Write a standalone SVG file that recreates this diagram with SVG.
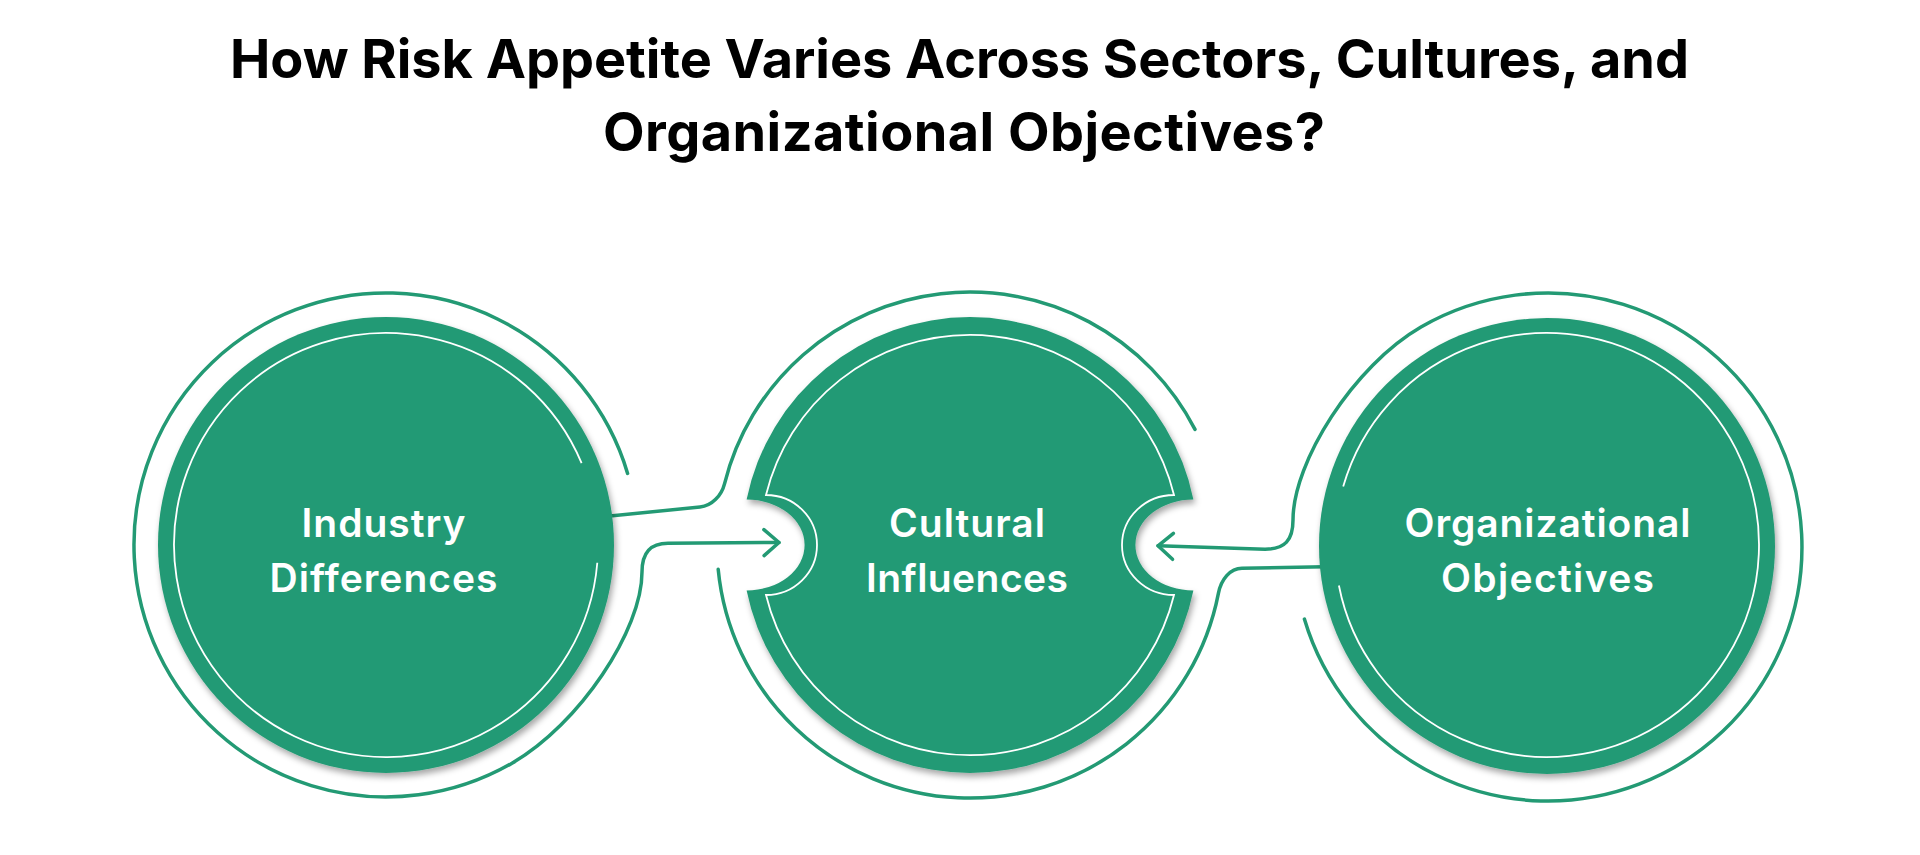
<svg xmlns="http://www.w3.org/2000/svg" width="1920" height="855" viewBox="0 0 1920 855">
  <style>
    .title { font-family: Inter, "DejaVu Sans", sans-serif; font-weight: 700; font-size: 54px; fill: #000; }
    .label { font-family: Inter, "DejaVu Sans", sans-serif; font-weight: 600; font-size: 39px; fill: #ffffff; }
    .disc { fill: #239A74; filter: url(#sh); }
    .inner { fill: none; stroke: #ffffff; stroke-width: 1.8; }
    .ring { fill: none; stroke: #239A74; stroke-width: 3.5; stroke-linecap: round; stroke-linejoin: round; }
  </style>
  <defs>
    <filter id="sh" x="-10%" y="-10%" width="125%" height="125%">
      <feDropShadow dx="2" dy="4" stdDeviation="3" flood-color="#000" flood-opacity="0.35"/>
    </filter>
    <marker id="chev" markerUnits="userSpaceOnUse" markerWidth="40" markerHeight="40" viewBox="-20 -20 40 40" refX="0" refY="0" orient="auto" overflow="visible">
      <path d="M -15 -13 L 0 0 L -15 13" fill="none" stroke="#239A74" stroke-width="3.5" stroke-linecap="round" stroke-linejoin="round"/>
    </marker>
  </defs>
  <rect width="1920" height="855" fill="#ffffff"/>

  <g id="title">
    <text class="title" x="959.5" y="78" text-anchor="middle" textLength="1459" lengthAdjust="spacing">How Risk Appetite Varies Across Sectors, Cultures, and</text>
    <text class="title" x="964" y="151" text-anchor="middle" textLength="722" lengthAdjust="spacing">Organizational Objectives?</text>
  </g>

  <g id="connectors">
    <!-- C1 ring into arrow toward C2 -->
    <path class="ring" marker-end="url(#chev)" d="M 627.6 473.4 A 252 252 0 1 0 512 763.2 C 579.5 724.2 642 630 642 572 C 642 553 650 543.3 668 543.3 L 779 542.5"/>
    <!-- line from C1 into C2 upper ring -->
    <path class="ring" d="M 605 516.6 L 700 507 C 712 505.8 721.6 495.4 724.5 483.8 A 253 253 0 0 1 1195 429.4"/>
    <!-- C2 lower ring into C3 -->
    <path class="ring" d="M 718.2 569.3 A 253 253 0 0 0 1218.4 593.3 C 1221.1 579.6 1230 568.3 1242 568.3 L 1325 566.8"/>
    <!-- C3 ring into arrow toward C2 -->
    <path class="ring" marker-end="url(#chev)" d="M 1304.4 619.1 A 254 254 0 1 0 1421 327 C 1353.5 366 1293 462 1293 520 C 1293 540 1285 549.3 1265 549.3 L 1158 545.8"/>
  </g>

  <g id="node-industry">
    <circle class="disc" cx="386" cy="545" r="228"/>
    <path class="inner" d="M 597.3 562.7 A 212 212 0 1 1 581.6 463.2"/>
    <text class="label" x="383.5" y="537" text-anchor="middle" textLength="164" lengthAdjust="spacing">Industry</text>
    <text class="label" x="383.5" y="592" text-anchor="middle" textLength="228" lengthAdjust="spacing">Differences</text>
  </g>

  <g id="node-cultural">
    <path class="disc" d="M 746.6 499.5 A 58 45.5 0 0 1 746.6 590.5 A 228 228 0 0 0 1193.4 590.5 A 58 45.5 0 0 1 1193.4 499.5 A 228 228 0 0 0 746.6 499.5 Z"/>
    <path class="inner" d="M 1174 495 A 210 210 0 0 0 766 495 A 51 50 0 0 1 766 595 A 210 210 0 0 0 1174 595 A 52 50 0 0 1 1174 495 Z"/>
    <text class="label" x="967" y="537" text-anchor="middle" textLength="156" lengthAdjust="spacing">Cultural</text>
    <text class="label" x="967" y="592" text-anchor="middle" textLength="202" lengthAdjust="spacing">Influences</text>
  </g>

  <g id="node-organizational">
    <circle class="disc" cx="1547" cy="546" r="228"/>
    <path class="inner" d="M 1343.2 486.6 A 212 212 0 1 1 1338.9 585.5"/>
    <text class="label" x="1547.5" y="537" text-anchor="middle" textLength="286" lengthAdjust="spacing">Organizational</text>
    <text class="label" x="1547.5" y="592" text-anchor="middle" textLength="213" lengthAdjust="spacing">Objectives</text>
  </g>
</svg>
